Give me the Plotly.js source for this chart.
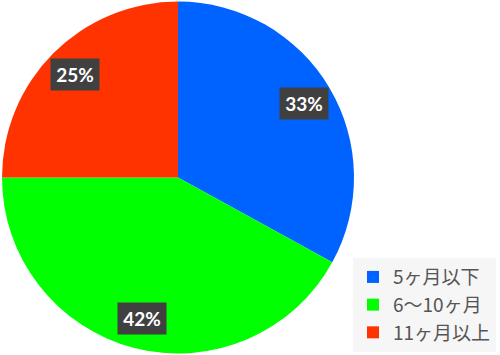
<!DOCTYPE html>
<html><head><meta charset="utf-8">
<script src="https://cdn.plot.ly/plotly-3.0.1.min.js"></script>
<style>body{margin:0;background:#fff}#chart{width:500px;height:355px}</style>
</head><body><div id="chart"></div>
<script>
const categories = ["5ヶ月以下", "6〜10ヶ月", "11ヶ月以上"];
const values = [33, 42, 25];
const colors = ["#0063FF", "#00FF00", "#FF3300"];

const W = 500, H = 355;
const dom = {x: [0.004, 0.708], y: [0.004, 0.996]};
const cxPx = (dom.x[0] + dom.x[1]) / 2 * W;
const cyPx = (1 - (dom.y[0] + dom.y[1]) / 2) * H;
const rPx = Math.min((dom.x[1] - dom.x[0]) * W, (dom.y[1] - dom.y[0]) * H) / 2;
const total = values.reduce((a, b) => a + b, 0);

const annotations = [];
let cum = 0;
values.forEach((v, i) => {
  const mid = (cum + v / 2) / total;
  cum += v;
  const th = mid * 2 * Math.PI;
  const rr = rPx * 0.83;
  const px = cxPx + rr * Math.sin(th);
  const py = cyPx - rr * Math.cos(th);
  annotations.push({
    x: px / W, y: 1 - py / H, xref: 'paper', yref: 'paper',
    xanchor: 'center', yanchor: 'middle',
    text: '<b>' + Math.round(v / total * 100) + '%</b>',
    showarrow: false, bgcolor: '#404040', borderpad: 4,
    width: 40, height: 23,
    font: {family: 'Lato, "Open Sans", sans-serif', size: 19, color: '#ffffff'}
  });
});

const data = [{
  type: 'pie', labels: categories, values: values,
  marker: {colors: colors, line: {width: 0}},
  sort: false, direction: 'clockwise', rotation: 0,
  textinfo: 'none', hoverinfo: 'none',
  domain: dom
}];

const layout = {
  width: W, height: H, margin: {l: 0, r: 0, t: 0, b: 0},
  paper_bgcolor: '#ffffff', showlegend: true,
  legend: {
    x: 0.706, y: 0.273, xanchor: 'left', yanchor: 'top',
    bgcolor: '#f6f6f6', borderwidth: 0,
    font: {family: '"Noto Sans CJK JP", sans-serif', size: 19, color: '#555555'},
    itemwidth: 30
  },
  annotations: annotations
};
Plotly.newPlot('chart', data, layout, {displayModeBar: false, staticPlot: true});
</script></body></html>
